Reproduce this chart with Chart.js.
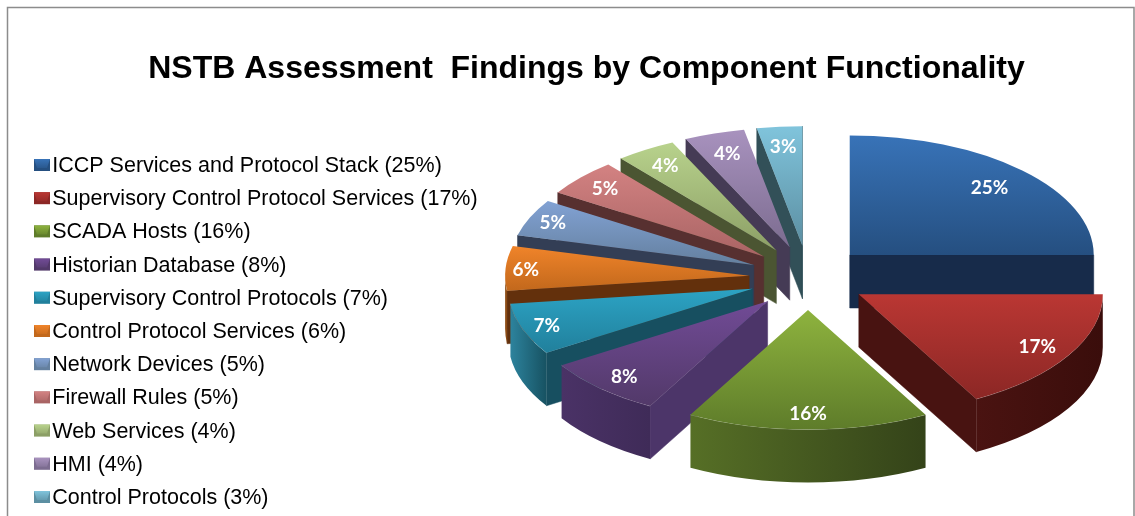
<!DOCTYPE html>
<html>
<head>
<meta charset="utf-8">
<title>NSTB Assessment Findings by Component Functionality</title>
<script src="https://cdn.jsdelivr.net/npm/chart.js@4"></script>
<style>
  html, body { margin: 0; padding: 0; background: #fff; }
  canvas { display: block; }
</style>
</head>
<body>
<canvas id="chart" width="1135" height="516"></canvas>
<script>
// Findings per component, percent of all findings.
const categories = [
  'ICCP Services and Protocol Stack', 'Supervisory Control Protocol Services', 'SCADA Hosts',
  'Historian Database', 'Supervisory Control Protocols', 'Control Protocol Services',
  'Network Devices', 'Firewall Rules', 'Web Services', 'HMI', 'Control Protocols'
];
const findings = [25, 17, 16, 8, 7, 6, 5, 5, 4, 4, 3];
const chartTitle = 'NSTB Assessment  Findings by Component Functionality';

// Slice colours: top face (light, dark), radial wall, outer rim (left, right).
const faceLight = ['#3873b8', '#ba3733', '#8eb33e', '#714b96', '#2ca3c4', '#f0842a', '#82a2d4', '#d38282', '#b8d28c', '#a892be', '#80c4dc'];
const faceDark  = ['#254f80', '#8c2725', '#5e7c2a', '#523969', '#21809c', '#c2681c', '#64809f', '#a96464', '#8c9f66', '#7c6c90', '#5c8fa2'];
const wallColor = ['#172b4a', '#481311', '#39481c', '#4c3569', '#174f60', '#63300c', '#333e55', '#573030', '#4b5532', '#453b55', '#325058'];
const rimLeft   = ['#172b4a', '#4a1311', '#566f26', '#4a3266', '#2d839d', '#8c4c16', '#333e55', '#573030', '#4b5532', '#453b55', '#325058'];
const rimRight  = ['#172b4a', '#3a0d0b', '#344319', '#3f2b58', '#175262', '#8c4c16', '#333e55', '#573030', '#4b5532', '#453b55', '#325058'];

// How far along each slice's bisector its value label sits.
const labelReach = [0.81, 0.85, 0.86, 0.858, 0.896, 0.917, 0.898, 0.867, 0.85, 0.83, 0.84];

// Projection of the tilted pie onto the page.
const pie3d = { cx: 808, cy: 277.8, radius: 244, squash: 0.49, explodeX: 59, explodeY: 32.2, depth: 53 };
const legendBox = { left: 34, first: 165, step: 33.2, swatchW: 16, swatchH: 12, fontSize: 21.5 };

function sliceOrigin(el) {
  const mid = (el.startAngle + el.endAngle) / 2;
  return {
    x: pie3d.cx + pie3d.explodeX * Math.cos(mid),
    y: pie3d.cy + pie3d.explodeY * Math.sin(mid)
  };
}

function rimPoint(o, r, a) {
  return { x: o.x + r * Math.cos(a), y: o.y + r * Math.sin(a) * pie3d.squash };
}

function drawRadialWall(ctx, o, r, a, color) {
  const p = rimPoint(o, r, a);
  ctx.beginPath();
  ctx.moveTo(o.x, o.y);
  ctx.lineTo(p.x, p.y);
  ctx.lineTo(p.x, p.y + pie3d.depth);
  ctx.lineTo(o.x, o.y + pie3d.depth);
  ctx.closePath();
  ctx.fillStyle = color;
  ctx.strokeStyle = color;
  ctx.lineWidth = 0.5;
  ctx.fill();
  ctx.stroke();
}

function drawRim(ctx, o, r, a, b, i) {
  const from = Math.max(a, 0), to = Math.min(b, Math.PI);
  if (to <= from) return;
  const ry = r * pie3d.squash;
  const left = rimPoint(o, r, to).x, right = rimPoint(o, r, from).x;
  const g = ctx.createLinearGradient(left, 0, right, 0);
  g.addColorStop(0, rimLeft[i]);
  g.addColorStop(1, rimRight[i]);
  ctx.beginPath();
  ctx.ellipse(o.x, o.y, r, ry, 0, from, to);
  ctx.ellipse(o.x, o.y + pie3d.depth, r, ry, 0, to, from, true);
  ctx.closePath();
  ctx.fillStyle = g;
  ctx.fill();
  // faint light catching the top edge
  ctx.beginPath();
  ctx.ellipse(o.x, o.y, r, ry, 0, from, to);
  ctx.strokeStyle = 'rgba(255,255,255,0.28)';
  ctx.lineWidth = 1;
  ctx.stroke();
}

function drawTopFace(ctx, el, o, i) {
  const r = el.outerRadius, a = el.startAngle, b = el.endAngle;
  const ys = [0, r * Math.sin(a), r * Math.sin(b)];
  if (a < -Math.PI / 2 + 1e-6 && b > -Math.PI / 2) ys.push(-r);
  if (a < Math.PI / 2 && b > Math.PI / 2) ys.push(r);
  if (a < 3 * Math.PI / 2 + 1e-6 && b >= 3 * Math.PI / 2 - 1e-6) ys.push(-r);
  ctx.save();
  ctx.translate(o.x, o.y);
  ctx.scale(1, pie3d.squash);
  ctx.translate(-el.x, -el.y);
  const g = ctx.createLinearGradient(0, el.y + Math.min(...ys), 0, el.y + Math.max(...ys));
  g.addColorStop(0, faceLight[i]);
  g.addColorStop(1, faceDark[i]);
  const base = el.options;
  el.options = Object.assign({}, base, { backgroundColor: g, borderWidth: 0 });
  el.draw(ctx);
  el.options = base;
  ctx.restore();
}

const tiltedPie = {
  id: 'tiltedPie',
  beforeDraw(chart) {
    const ctx = chart.ctx;
    ctx.save();
    ctx.fillStyle = '#fff';
    ctx.fillRect(0, 0, chart.width, chart.height);
    ctx.strokeStyle = '#8c8c8c';
    ctx.lineWidth = 1.5;
    ctx.beginPath();
    ctx.moveTo(7.5, 516);
    ctx.lineTo(7.5, 7.5);
    ctx.lineTo(1134, 7.5);
    ctx.lineTo(1134, 516);
    ctx.stroke();
    ctx.restore();
  },
  afterLayout(chart) {
    // title centred over the page frame, legend in its own column
    chart.titleBlock.left = 38;
    chart.titleBlock.right = 1135;
    const pad = chart.legend.options.labels.padding;
    chart.legend.left = legendBox.left - pad;
    chart.legend.right = 560;
    chart.legend.top = legendBox.first + 1 - legendBox.fontSize / 2 - pad;
    chart.legend.bottom = chart.height + 40;
  },
  beforeDatasetDraw(chart, args) {
    const ctx = chart.ctx;
    const arcs = chart.getDatasetMeta(args.index).data;
    // paint from the back of the pie to the front
    const order = arcs.map((el, i) => i).sort((p, q) =>
      Math.sin((arcs[p].startAngle + arcs[p].endAngle) / 2) -
      Math.sin((arcs[q].startAngle + arcs[q].endAngle) / 2));
    order.forEach(i => {
      const el = arcs[i];
      const o = sliceOrigin(el);
      const r = el.outerRadius, a = el.startAngle, b = el.endAngle;
      ctx.save();
      if (-Math.cos(a) > 0) drawRadialWall(ctx, o, r, a, wallColor[i]);
      if (Math.cos(b) > 0) drawRadialWall(ctx, o, r, b, wallColor[i]);
      drawRim(ctx, o, r, a, b, i);
      ctx.restore();
      drawTopFace(ctx, el, o, i);
    });
    return false;
  },
  afterDatasetsDraw(chart) {
    const ctx = chart.ctx;
    const arcs = chart.getDatasetMeta(0).data;
    ctx.save();
    ctx.fillStyle = '#fff';
    ctx.font = 'bold 19px Lato';
    ctx.textAlign = 'center';
    ctx.textBaseline = 'middle';
    arcs.forEach((el, i) => {
      const o = sliceOrigin(el);
      const mid = (el.startAngle + el.endAngle) / 2;
      const p = rimPoint(o, el.outerRadius * labelReach[i], mid);
      ctx.fillText(findings[i] + '%', p.x, p.y + 1);
    });
    ctx.restore();
  },
  afterDraw(chart) {
    // bevelled legend swatches
    const ctx = chart.ctx;
    ctx.save();
    findings.forEach((v, i) => {
      const x = legendBox.left;
      const y = legendBox.first + i * legendBox.step - legendBox.swatchH / 2;
      const w = legendBox.swatchW, h = legendBox.swatchH;
      ctx.fillStyle = faceDark[i];
      ctx.fillRect(x, y, w, h);
      const g = ctx.createLinearGradient(0, y, 0, y + h);
      g.addColorStop(0, faceLight[i]);
      g.addColorStop(1, faceDark[i]);
      ctx.fillStyle = g;
      ctx.beginPath();
      ctx.moveTo(x, y);
      ctx.lineTo(x + w, y);
      ctx.lineTo(x + w - 3, y + h - 3);
      ctx.lineTo(x + 3, y + h - 3);
      ctx.closePath();
      ctx.fill();
    });
    ctx.restore();
  }
};

new Chart(document.getElementById('chart'), {
  type: 'pie',
  data: {
    labels: categories.map((c, i) => `${c} (${findings[i]}%)`),
    datasets: [{ data: findings, backgroundColor: faceLight, borderWidth: 0 }]
  },
  plugins: [tiltedPie],
  options: {
    responsive: false,
    animation: false,
    events: [],
    radius: pie3d.radius,
    layout: { padding: 0 },
    plugins: {
      tooltip: { enabled: false },
      title: {
        display: true,
        text: chartTitle,
        color: '#000',
        font: { family: '"Liberation Sans"', size: 32, weight: 'bold', lineHeight: 1.2 },
        padding: { top: 49.5, bottom: 2 }
      },
      legend: {
        position: 'left',
        align: 'start',
        labels: {
          color: '#000',
          font: { family: '"Liberation Sans"', size: legendBox.fontSize, lineHeight: 1 },
          boxWidth: 7.5,
          boxHeight: 8,
          padding: legendBox.step - legendBox.fontSize,
          generateLabels: chart =>
            Chart.overrides.pie.plugins.legend.labels.generateLabels(chart).map(item =>
              Object.assign(item, { fillStyle: 'rgba(0,0,0,0)', strokeStyle: 'rgba(0,0,0,0)', lineWidth: 0 }))
        }
      }
    }
  }
});
</script>
</body>
</html>
